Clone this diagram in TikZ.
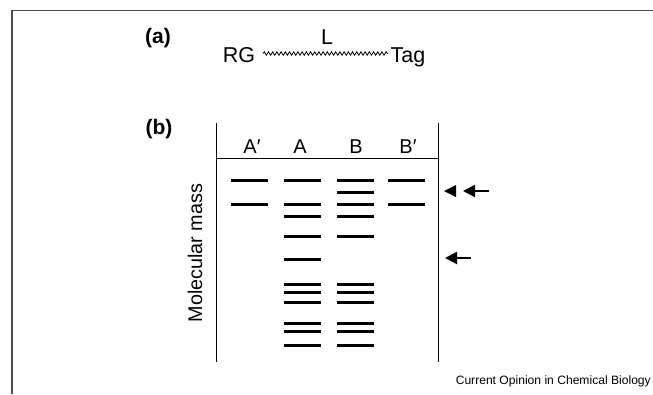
\documentclass[tikz,border=0pt]{standalone}
\usepackage{fontspec}
\setmainfont{Liberation Sans}
\usetikzlibrary{decorations.pathmorphing,arrows.meta}

\begin{document}
\begin{tikzpicture}[x=1pt,y=-1pt,
  frameline/.style={draw=black!70,line width=1.3pt},
  gelline/.style={draw=black,line width=1pt},
  band/.style={draw=black,line width=3pt},
  lbl/.style={inner sep=0pt,font=\fontsize{20}{20}\selectfont},
  part/.style={inner sep=0pt,font=\fontsize{21.5}{21.5}\selectfont},
  panel/.style={inner sep=0pt,font=\fontsize{21}{21}\selectfont\bfseries},
  marker/.style={draw=black,line width=2pt,-{Triangle[length=12pt,width=12pt]}}
]
\useasboundingbox (0,0) rectangle (653,394);

% outer frame (top and left edges)
\draw[frameline] (653,10.5) -- (12,10.5) -- (12,394);

% (a) construct: reactive group, linker, tag
\node[panel] (pa) at (158,38) {(a)};
\node[part] (rg) at (239,55) {RG};
\node[part] (tag) at (408,57) {Tag};
\node[part] (L) at (327,37.5) {L};
\coordinate (lkA) at (263,53.5);
\coordinate (lkB) at (388,53.5);
\draw[line width=0.8pt,decorate,decoration={snake,segment length=4.2pt,amplitude=1.7pt}] (lkA) -- (lkB);

% (b) gel
\node[panel] (pb) at (159,129.5) {(b)};
\coordinate (gTL) at (216,123);
\coordinate (gBL) at (216,362);
\coordinate (gTR) at (438,123);
\coordinate (gBR) at (438,362);
\coordinate (hL) at (216,158);
\coordinate (hR) at (438,158);
\draw[gelline] (gTL) -- (gBL);
\draw[gelline] (gTR) -- (gBR);
\draw[gelline] (hL) -- (hR);

\node[lbl] (lAp) at (252,146.5) {A′};
\node[lbl] (lA) at (300,146.5) {A};
\node[lbl] (lB) at (356,146.5) {B};
\node[lbl] (lBp) at (408,146.5) {B′};

\node[lbl,rotate=90,font=\fontsize{19.8}{19.8}\selectfont] (mm) at (195,253) {Molecular mass};

% bands: lane centre, list of positions
\def\halfw{18.5}
\foreach \x/\ylist in {249.5/{180,204},
                        302/{180,204,216.5,236.5,259,284,292.5,302,323,331.5,345},
                        355.5/{180,192,204,216.5,236.5,284,292.5,302,323,331.5,345},
                        406.5/{180,204}}{
  \foreach \y in \ylist {
    \draw[band] (\x-\halfw,\y) -- (\x+\halfw,\y);
  }
}

% markers on the right
\coordinate (dA) at (489,191);
\coordinate (dB) at (463,191);
\draw[marker] (dA) -- (dB);
\fill (444,191) -- (456,185) -- (456,197) -- cycle;
\coordinate (sA) at (471,258);
\coordinate (sB) at (445,258);
\draw[marker] (sA) -- (sB);

\node[inner sep=0pt,anchor=east,font=\fontsize{12.1}{12.1}\selectfont] (src) at (651,381) {Current Opinion in Chemical Biology};
\end{tikzpicture}
\end{document}
